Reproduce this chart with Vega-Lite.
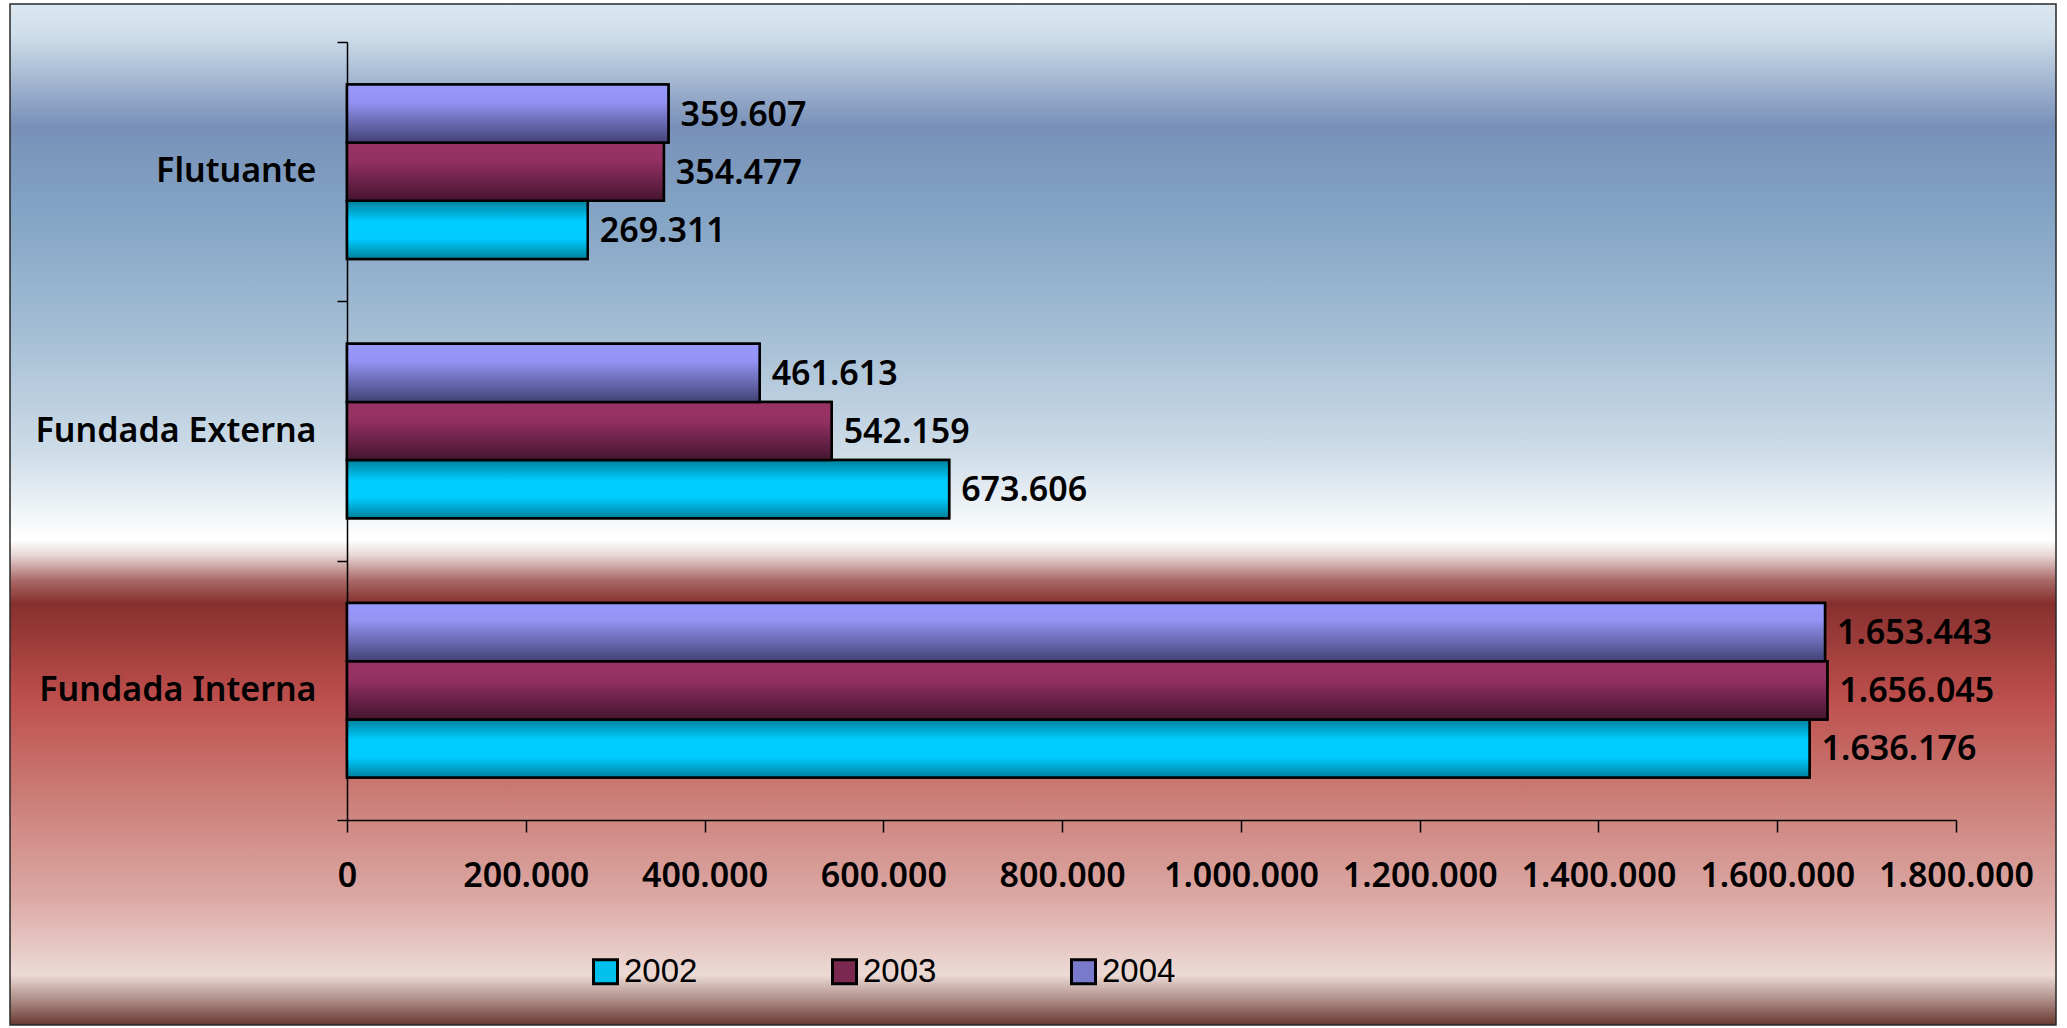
{
  "$schema": "https://vega.github.io/schema/vega-lite/v6.json",
  "description": "Dívida por tipo, 2002-2004",
  "width": 2046,
  "height": 1021,
  "autosize": {"type": "none"},
  "padding": {"left": 10, "top": 4, "right": 11, "bottom": 3},
  "background": "white",
  "data": {
    "values": [
      {"categoria": "Flutuante", "ano": "2002", "valor": 269311},
      {"categoria": "Flutuante", "ano": "2003", "valor": 354477},
      {"categoria": "Flutuante", "ano": "2004", "valor": 359607},
      {"categoria": "Fundada Externa", "ano": "2002", "valor": 673606},
      {"categoria": "Fundada Externa", "ano": "2003", "valor": 542159},
      {"categoria": "Fundada Externa", "ano": "2004", "valor": 461613},
      {"categoria": "Fundada Interna", "ano": "2002", "valor": 1636176},
      {"categoria": "Fundada Interna", "ano": "2003", "valor": 1656045},
      {"categoria": "Fundada Interna", "ano": "2004", "valor": 1653443}
    ]
  },
  "encoding": {
    "y": {
      "field": "categoria",
      "type": "nominal",
      "sort": ["Flutuante", "Fundada Externa", "Fundada Interna"],
      "title": null,
      "scale": {"range": [38, 816], "paddingInner": 0, "paddingOuter": 0},
      "axis": {
        "orient": "left",
        "offset": -337,
        "tickBand": "extent",
        "tickSize": 10,
        "tickColor": "black",
        "domainColor": "black",
        "domainWidth": 1.5,
        "tickWidth": 1.5,
        "labelPadding": 21,
        "labelFontSize": 34,
        "labelFontWeight": 600,
        "labelColor": "black",
        "labelLimit": 400,
        "grid": false
      }
    },
    "yOffset": {
      "field": "ano",
      "type": "nominal",
      "sort": ["2004", "2003", "2002"],
      "scale": {"paddingInner": 0, "paddingOuter": 0.73}
    },
    "x": {
      "field": "valor",
      "type": "quantitative",
      "title": null,
      "scale": {"domain": [0, 1800000], "range": [337, 1946], "nice": false},
      "axis": {
        "orient": "bottom",
        "offset": -205,
        "values": [0, 200000, 400000, 600000, 800000, 1000000, 1200000, 1400000, 1600000, 1800000],
        "format": ",d",
        "tickSize": 12,
        "tickColor": "black",
        "domainColor": "black",
        "domainWidth": 1.5,
        "tickWidth": 1.5,
        "labelPadding": 27,
        "labelFontSize": 34,
        "labelFontWeight": 600,
        "labelColor": "black",
        "labelFlush": false,
        "labelOverlap": false,
        "grid": false
      }
    }
  },
  "layer": [
    {
      "mark": {"type": "bar", "stroke": "black", "strokeWidth": 2.5},
      "encoding": {
        "fill": {
          "field": "ano",
          "type": "nominal",
          "scale": {
            "domain": ["2002", "2003", "2004"],
            "range": ["#00c0ee", "#7a2850", "#7a7acc"]
          },
          "legend": {
            "orient": "none",
            "legendX": 579,
            "legendY": 951,
            "direction": "horizontal",
            "title": null,
            "symbolType": "square",
            "symbolSize": 576,
            "symbolStrokeColor": "black",
            "symbolStrokeWidth": 3,
            "symbolOpacity": 1,
            "labelFont": "Liberation Sans",
            "labelFontSize": 33,
            "labelColor": "black",
            "labelOffset": 2,
            "columnPadding": 128
          }
        }
      }
    },
    {
      "transform": [{"filter": "datum.ano == '2002'"}],
      "mark": {"type": "bar", "stroke": "black", "strokeWidth": 2.5,
        "color": {"gradient": "linear", "x1": 0, "y1": 0, "x2": 0, "y2": 1, "stops": [
          {"offset": 0, "color": "#00809c"},
          {"offset": 0.35, "color": "#00ccff"},
          {"offset": 0.65, "color": "#00ccff"},
          {"offset": 1, "color": "#00809c"}
        ]}}
    },
    {
      "transform": [{"filter": "datum.ano == '2003'"}],
      "mark": {"type": "bar", "stroke": "black", "strokeWidth": 2.5,
        "color": {"gradient": "linear", "x1": 0, "y1": 0, "x2": 0, "y2": 1, "stops": [
          {"offset": 0, "color": "#993366"},
          {"offset": 0.3, "color": "#943163"},
          {"offset": 1, "color": "#461530"}
        ]}}
    },
    {
      "transform": [{"filter": "datum.ano == '2004'"}],
      "mark": {"type": "bar", "stroke": "black", "strokeWidth": 2.5,
        "color": {"gradient": "linear", "x1": 0, "y1": 0, "x2": 0, "y2": 1, "stops": [
          {"offset": 0, "color": "#9999ff"},
          {"offset": 0.3, "color": "#9393f3"},
          {"offset": 1, "color": "#424275"}
        ]}}
    },
    {
      "mark": {"type": "text", "align": "left", "baseline": "middle", "dx": 12, "dy": 2, "fontSize": 34, "fontWeight": 600, "color": "black"},
      "encoding": {
        "text": {"field": "valor", "type": "quantitative", "format": ",d"}
      }
    }
  ],
  "config": {
    "font": "Noto Sans",
    "locale": {
      "number": {"decimal": ",", "thousands": ".", "grouping": [3], "currency": ["R$", ""]}
    },
    "view": {
      "stroke": "#2a2a2a",
      "strokeWidth": 1.5,
      "fill": {"gradient": "linear", "x1": 0, "y1": 0, "x2": 0, "y2": 1, "stops": [
        {"offset": 0, "color": "#dce8f1"},
        {"offset": 0.03, "color": "#cfdeea"},
        {"offset": 0.12, "color": "#7890b8"},
        {"offset": 0.2, "color": "#83a3c4"},
        {"offset": 0.32, "color": "#a3bdd4"},
        {"offset": 0.44, "color": "#cedce8"},
        {"offset": 0.5, "color": "#f2f6f9"},
        {"offset": 0.525, "color": "#ffffff"},
        {"offset": 0.54, "color": "#e8d6d6"},
        {"offset": 0.565, "color": "#a86865"},
        {"offset": 0.587, "color": "#86302e"},
        {"offset": 0.68, "color": "#bd4f4d"},
        {"offset": 0.8, "color": "#cf8882"},
        {"offset": 0.875, "color": "#dca8a4"},
        {"offset": 0.951, "color": "#ecdad5"},
        {"offset": 0.975, "color": "#ae8e88"},
        {"offset": 1, "color": "#683830"}
      ]}
    }
  }
}
